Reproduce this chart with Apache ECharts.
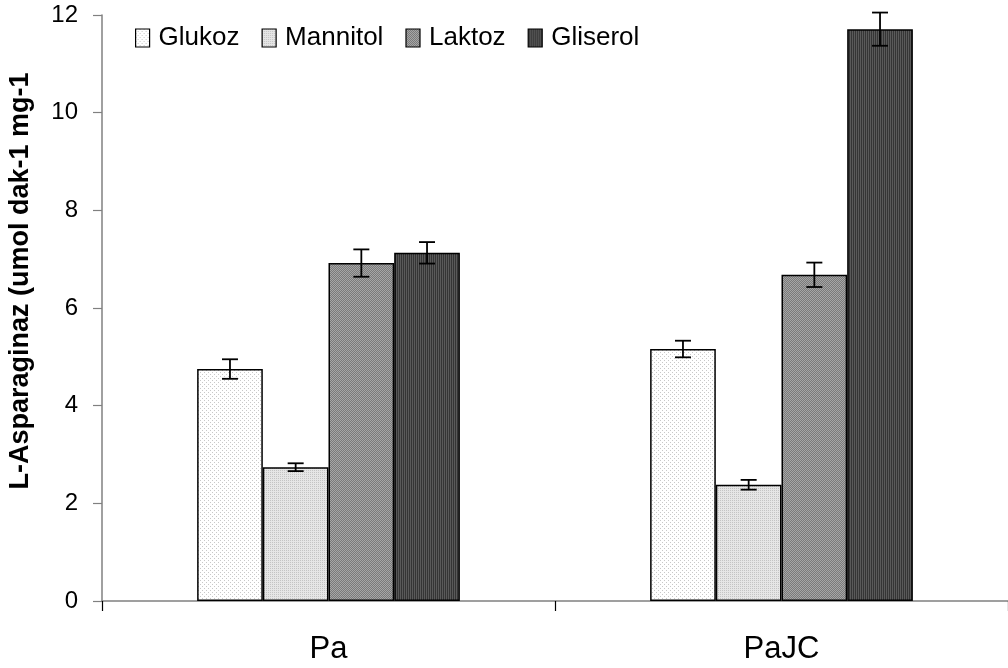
<!DOCTYPE html>
<html><head><meta charset="utf-8">
<script src="https://cdn.jsdelivr.net/npm/echarts@6/dist/echarts.min.js"></script>
<style>html,body{margin:0;padding:0;background:#fff}#c{width:1008px;height:668px}</style>
</head><body><div id="c"></div>
<script>
const categories = ['Pa', 'PaJC'];
const seriesNames = ['Glukoz', 'Mannitol', 'Laktoz', 'Gliserol'];
const glukoz = [4.75, 5.16];
const mannitol = [2.74, 2.38];
const laktoz = [6.92, 6.68];
const gliserol = [7.13, 11.71];
const glukozErr = [0.2, 0.17];
const mannitolErr = [0.08, 0.1];
const laktozErr = [0.28, 0.25];
const gliserolErr = [0.22, 0.34];
const yTicks = [0, 2, 4, 6, 8, 10, 12];

const values = [glukoz, mannitol, laktoz, gliserol];
const errs = [glukozErr, mannitolErr, laktozErr, gliserolErr];

function makePattern(kind) {
  const c = document.createElement('canvas');
  c.width = 4; c.height = 4;
  const ctx = c.getContext('2d');
  if (kind === 0) {
    ctx.fillStyle = '#ffffff'; ctx.fillRect(0, 0, 4, 4);
    ctx.fillStyle = '#c8c8c8'; ctx.fillRect(0, 0, 1, 1); ctx.fillRect(2, 2, 1, 1);
  } else if (kind === 1) {
    ctx.fillStyle = '#e6e6e6'; ctx.fillRect(0, 0, 4, 4);
    ctx.fillStyle = '#c4c4c4'; ctx.fillRect(0, 0, 1, 1); ctx.fillRect(2, 2, 1, 1); ctx.fillRect(2,0,1,1); ctx.fillRect(0,2,1,1);
  } else if (kind === 2) {
    for (let x = 0; x < 4; x++) for (let y = 0; y < 4; y++) {
      ctx.fillStyle = ((x + y) % 2) ? '#7a7a7a' : '#a6a6a6';
      ctx.fillRect(x, y, 1, 1);
    }
  } else {
    for (let x = 0; x < 4; x++) {
      ctx.fillStyle = (x % 2) ? '#353535' : '#5a5a5a';
      ctx.fillRect(x, 0, 1, 4);
    }
  }
  return { image: c, repeat: 'repeat' };
}

const gapRatio = 0.42;
const series = [];
seriesNames.forEach((name, i) => {
  series.push({
    name: name, type: 'bar', data: values[i],
    barGap: '0%', barCategoryGap: '42%',
    itemStyle: { color: makePattern(i), borderColor: '#000', borderWidth: 1.5 },
    emphasis: { disabled: true }
  });
});
seriesNames.forEach((name, i) => {
  series.push({
    type: 'custom', name: name + ' err',
    data: values[i].map((v, k) => [k, v, errs[i][k]]),
    encode: { x: 0, y: 1 },
    z: 10, silent: true,
    renderItem: function (params, api) {
      const k = api.value(0), v = api.value(1), e = api.value(2);
      const band = api.size([1, 0])[0];
      const bw = band * (1 - gapRatio) / 4;
      const cx = api.coord([k, v])[0] + (i - 1.5) * bw;
      const top = api.coord([k, v + e])[1];
      const bot = api.coord([k, v - e])[1];
      const hw = 8;
      const st = { stroke: '#000', lineWidth: 1.8 };
      return { type: 'group', children: [
        { type: 'line', shape: { x1: cx, y1: top, x2: cx, y2: bot }, style: st },
        { type: 'line', shape: { x1: cx - hw, y1: top, x2: cx + hw, y2: top }, style: st },
        { type: 'line', shape: { x1: cx - hw, y1: bot, x2: cx + hw, y2: bot }, style: st }
      ]};
    }
  });
});

const chart = echarts.init(document.getElementById('c'), null, { renderer: 'canvas' });
chart.setOption({
  animation: false,
  backgroundColor: '#fff',
  textStyle: { fontFamily: 'Liberation Sans, Arial, sans-serif', color: '#000' },
  legend: {
    data: seriesNames, left: 130, top: 20,
    icon: 'rect', itemWidth: 14, itemHeight: 18, itemGap: 22,
    textStyle: { fontSize: 26, color: '#000', padding: [0, 0, 0, 4] },
    itemStyle: { borderColor: '#000', borderWidth: 1.2 },
    selectedMode: false
  },
  grid: { left: 102, right: 0, top: 15, bottom: 67, containLabel: false, outerBoundsMode: 'none' },
  xAxis: {
    type: 'category', data: categories,
    axisLine: { lineStyle: { color: '#808080', width: 1.5 } },
    axisTick: { show: true, length: 10, alignWithLabel: false, lineStyle: { color: '#000', width: 1.2 } },
    axisLabel: { fontSize: 31, color: '#000', margin: 33 }
  },
  yAxis: {
    type: 'value', min: 0, max: 12, interval: 2,
    name: 'L-Asparaginaz (umol dak-1 mg-1', nameLocation: 'middle', nameGap: 68,
    nameTextStyle: { fontSize: 27, fontWeight: 'bold', color: '#000', padding: [0, 0, 0, 54] },
    axisLine: { show: true, lineStyle: { color: '#808080', width: 1.5 } },
    axisTick: { show: true, length: 9, lineStyle: { color: '#808080', width: 1.2 } },
    axisLabel: { fontSize: 24, color: '#000', margin: 24, formatter: v => yTicks.includes(v) ? String(v) : '' },
    splitLine: { show: false }
  },
  series: series
});
</script></body></html>
